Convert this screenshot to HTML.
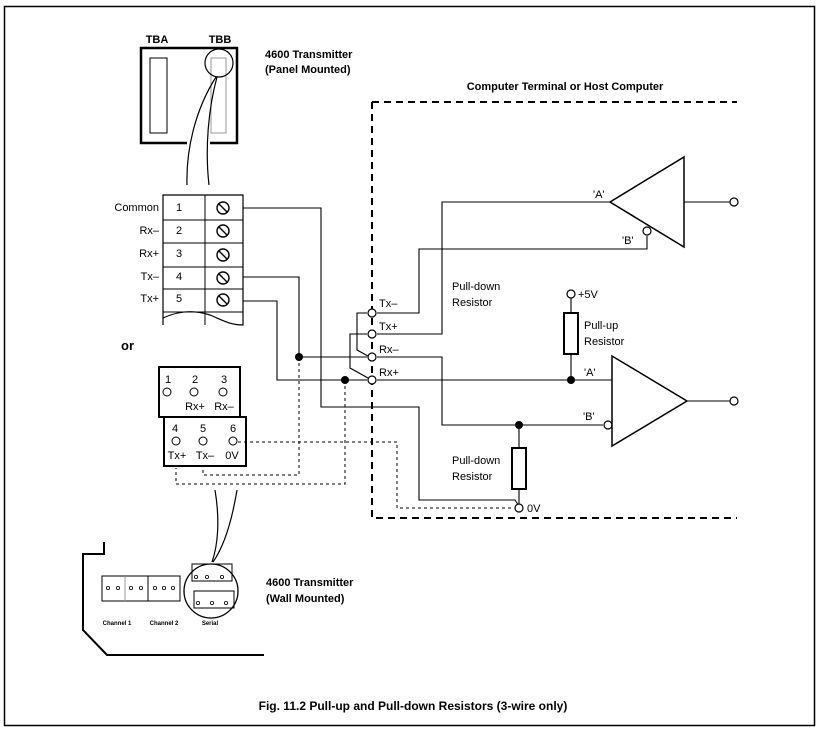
<!DOCTYPE html>
<html><head><meta charset="utf-8"><style>
html,body{margin:0;padding:0;background:#fff}
svg{display:block}
text{font-family:"Liberation Sans",Arial,sans-serif;fill:#000}
.b{font-weight:bold}
</style></head><body>
<svg width="824" height="733" viewBox="0 0 824 733" xmlns="http://www.w3.org/2000/svg">
<rect x="4.5" y="6.5" width="810" height="719" fill="none" stroke="#000" stroke-width="1.5"/>

<!-- Panel mounted transmitter -->
<text x="157" y="43" font-size="11" class="b" text-anchor="middle">TBA</text>
<text x="220" y="43" font-size="11" class="b" text-anchor="middle">TBB</text>
<path d="M187,143 H141 V48 H237 V143 H210" fill="none" stroke="#000" stroke-width="2.5"/>
<rect x="150" y="58" width="17" height="75" fill="none" stroke="#000" stroke-width="1"/>
<rect x="211" y="58" width="15" height="75" fill="none" stroke="#999" stroke-width="1"/>
<circle cx="219" cy="63" r="14" fill="none" stroke="#000" stroke-width="1.2"/>
<path d="M216,77 C195,110 186,150 187,185" fill="none" stroke="#000" stroke-width="1.2"/>
<path d="M217,77 C208,110 205,150 209,185" fill="none" stroke="#000" stroke-width="1.2"/>
<text x="265" y="58" font-size="11" class="b">4600 Transmitter</text>
<text x="265" y="73" font-size="11" class="b">(Panel Mounted)</text>

<!-- Terminal block -->
<path d="M163,325 V195 H243 V325 C230,325 222,320 210,315 C195,310 180,310 163,318" fill="none" stroke="#000" stroke-width="1.2"/>
<line x1="205" y1="195" x2="205" y2="325" stroke="#000" stroke-width="1"/>
<g stroke="#000" stroke-width="1">
<line x1="163" y1="220" x2="243" y2="220"/><line x1="163" y1="243" x2="243" y2="243"/>
<line x1="163" y1="267" x2="243" y2="267"/><line x1="163" y1="289" x2="243" y2="289"/>
<line x1="163" y1="312" x2="243" y2="312"/>
</g>
<g font-size="11">
<text x="159" y="211" text-anchor="end">Common</text>
<text x="159" y="234" text-anchor="end">Rx–</text>
<text x="159" y="257" text-anchor="end">Rx+</text>
<text x="159" y="280" text-anchor="end">Tx–</text>
<text x="159" y="302" text-anchor="end">Tx+</text>
<text x="179" y="211" text-anchor="middle">1</text>
<text x="179" y="234" text-anchor="middle">2</text>
<text x="179" y="257" text-anchor="middle">3</text>
<text x="179" y="280" text-anchor="middle">4</text>
<text x="179" y="302" text-anchor="middle">5</text>
</g>
<g fill="none" stroke="#000" stroke-width="1.4">
<circle cx="223" cy="208" r="6"/><line x1="219" y1="204" x2="227" y2="212"/>
<circle cx="223" cy="231" r="6"/><line x1="219" y1="227" x2="227" y2="235"/>
<circle cx="223" cy="255" r="6"/><line x1="219" y1="251" x2="227" y2="259"/>
<circle cx="223" cy="278" r="6"/><line x1="219" y1="274" x2="227" y2="282"/>
<circle cx="223" cy="300" r="6"/><line x1="219" y1="296" x2="227" y2="304"/>
</g>

<text x="121" y="350" font-size="13" class="b">or</text>

<!-- Wiring -->
<g fill="none" stroke="#000" stroke-width="1.1">
<path d="M243,208 H321 V407 H419 V500 L515,500 L519,506"/>
<path d="M243,277 H299 V357 H367"/>
<path d="M243,301 H277 V380 H367"/>
<path d="M377,313 H419 V249 H647 V236"/>
<path d="M377,334 H442 V202 H610"/>
<path d="M367,313 H357 V350 L368,356"/>
<path d="M367,334 H350 V368 L368,378"/>
<path d="M377,357 H442 V425 H603"/>
<path d="M377,380 H612"/>
<path d="M684,202 H730"/>
<path d="M687,401 H730"/>
<path d="M571,298 V313 M571,354 V380"/>
<path d="M519,425 V448 M519,489 V504"/>
</g>
<g fill="none" stroke="#000" stroke-width="1" stroke-dasharray="3,3">
<path d="M299,357 V475 H203 V468"/>
<path d="M345,380 V484 H176 V468"/>
<path d="M238,442 H397 V508 H514"/>
</g>
<g fill="#000"><circle cx="299" cy="357" r="4"/><circle cx="345" cy="380" r="4"/><circle cx="571" cy="380" r="4"/><circle cx="519" cy="425" r="4"/></g>

<!-- Dashed computer box -->
<path d="M372,102 H737 M372,102 V518 H737" fill="none" stroke="#000" stroke-width="2" stroke-dasharray="7,5"/>
<text x="565" y="90" font-size="11" class="b" text-anchor="middle">Computer Terminal or Host Computer</text>

<!-- terminals -->
<g fill="#fff" stroke="#000" stroke-width="1.2">
<circle cx="372" cy="313" r="4"/><circle cx="372" cy="334" r="4"/><circle cx="372" cy="357" r="4"/><circle cx="372" cy="380" r="4"/>
<circle cx="734" cy="202" r="4"/><circle cx="734" cy="401" r="4"/><circle cx="571" cy="294" r="4"/><circle cx="519" cy="508" r="4"/>
<circle cx="647" cy="231" r="4"/><circle cx="608" cy="425" r="4"/>
</g>
<g font-size="11">
<text x="379" y="307">Tx–</text><text x="379" y="330">Tx+</text><text x="379" y="353">Rx–</text><text x="379" y="376">Rx+</text>
<text x="452" y="290">Pull-down</text><text x="452" y="306">Resistor</text>
<text x="578" y="298">+5V</text>
<text x="584" y="329">Pull-up</text><text x="584" y="345">Resistor</text>
<text x="452" y="464">Pull-down</text><text x="452" y="480">Resistor</text>
<text x="527" y="512">0V</text>
<text x="593" y="198">'A'</text><text x="622" y="244">'B'</text>
<text x="584" y="376">'A'</text><text x="583" y="420">'B'</text>
</g>
<!-- triangles and resistors -->
<g fill="none" stroke="#000" stroke-width="1.5">
<path d="M610,202 L684,157 V247 Z"/>
<path d="M612,356 L687,401 L612,446 Z"/>
<rect x="564" y="313" width="14" height="41" stroke-width="2"/>
<rect x="512" y="448" width="14" height="41" stroke-width="2"/>
</g>

<!-- Lower connector -->
<rect x="159" y="367" width="81" height="50" fill="none" stroke="#000" stroke-width="2"/>
<rect x="164" y="417" width="82" height="49" fill="none" stroke="#000" stroke-width="2"/>
<g font-size="11" text-anchor="middle">
<text x="168" y="383">1</text><text x="195" y="383">2</text><text x="224" y="383">3</text>
<text x="195" y="410">Rx+</text><text x="224" y="410">Rx–</text>
<text x="175" y="432">4</text><text x="203" y="432">5</text><text x="233" y="432">6</text>
<text x="177" y="459">Tx+</text><text x="205" y="459">Tx–</text><text x="232" y="459">0V</text>
</g>
<g fill="none" stroke="#000" stroke-width="1">
<circle cx="167" cy="392" r="4"/><circle cx="194" cy="392" r="4"/><circle cx="223" cy="392" r="4"/>
<circle cx="176" cy="441" r="4"/><circle cx="203" cy="441" r="4"/><circle cx="233" cy="441" r="4"/>
</g>

<!-- wall cable -->
<path d="M215,490 C220,520 218,545 212,562" fill="none" stroke="#000" stroke-width="1.2"/>
<path d="M237,490 C232,520 225,545 213,562" fill="none" stroke="#000" stroke-width="1.2"/>

<!-- Wall unit -->
<path d="M104,542 V554 H83 V630 L107,655 H264" fill="none" stroke="#000" stroke-width="2"/>
<rect x="102" y="576" width="78" height="25" fill="none" stroke="#000" stroke-width="1"/>
<line x1="125" y1="576" x2="125" y2="601" stroke="#999"/>
<line x1="148" y1="576" x2="148" y2="601" stroke="#000"/>
<g fill="none" stroke="#000" stroke-width="0.8">
<circle cx="108" cy="588" r="1.6"/><circle cx="118" cy="588" r="1.6"/><circle cx="131" cy="588" r="1.6"/><circle cx="141" cy="588" r="1.6"/>
<circle cx="155" cy="588" r="1.6"/><circle cx="164" cy="588" r="1.6"/><circle cx="173" cy="588" r="1.6"/>
</g>
<circle cx="211" cy="591" r="27" fill="none" stroke="#000" stroke-width="1.3"/>
<rect x="192" y="564" width="40" height="17" fill="none" stroke="#000" stroke-width="1"/>
<rect x="194" y="591" width="40" height="17" fill="none" stroke="#000" stroke-width="1"/>
<g fill="none" stroke="#000" stroke-width="0.8">
<circle cx="196" cy="577" r="1.6"/><circle cx="207" cy="577" r="1.6"/><circle cx="222" cy="577" r="1.6"/>
<circle cx="198" cy="603" r="1.6"/><circle cx="212" cy="603" r="1.6"/><circle cx="226" cy="603" r="1.6"/>
</g>
<g font-size="6" class="b" text-anchor="middle">
<text x="117" y="625">Channel 1</text><text x="164" y="625">Channel 2</text><text x="210" y="625">Serial</text>
</g>
<text x="266" y="586" font-size="11" class="b">4600 Transmitter</text>
<text x="266" y="602" font-size="11" class="b">(Wall Mounted)</text>

<text x="413" y="710" font-size="12" class="b" text-anchor="middle">Fig. 11.2 Pull-up and Pull-down Resistors (3-wire only)</text>
</svg>
</body></html>
